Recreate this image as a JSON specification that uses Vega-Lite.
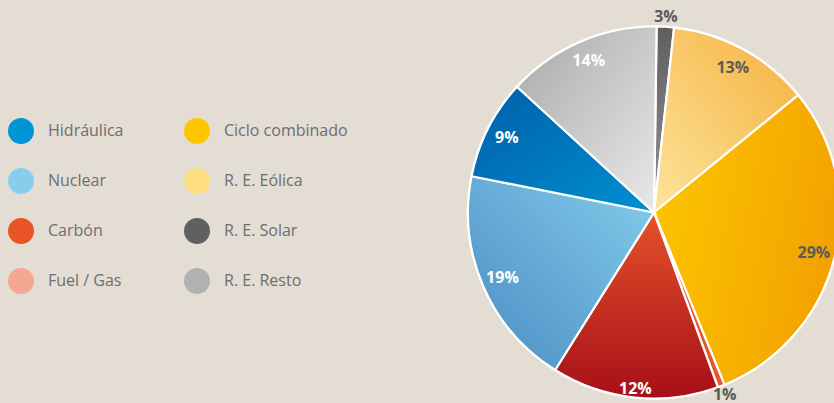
{
  "$schema": "https://vega.github.io/schema/vega-lite/v6.json",
  "width": 360,
  "height": 381,
  "padding": {"left": 474, "top": 22, "right": 0, "bottom": 0},
  "autosize": {"type": "none"},
  "background": "#e4ddd4",
  "config": {"view": {"stroke": null}},
  "data": {"values": [
    {"ord": 1, "fuente": "R. E. Solar", "share": 1.5, "etiqueta": "3%"},
    {"ord": 2, "fuente": "R. E. Eólica", "share": 12.4, "etiqueta": "13%"},
    {"ord": 3, "fuente": "Ciclo combinado", "share": 29.7, "etiqueta": "29%"},
    {"ord": 4, "fuente": "Fuel / Gas", "share": 0.6, "etiqueta": "1%"},
    {"ord": 5, "fuente": "Carbón", "share": 14.5, "etiqueta": "12%"},
    {"ord": 6, "fuente": "Nuclear", "share": 19.2, "etiqueta": "19%"},
    {"ord": 7, "fuente": "Hidráulica", "share": 8.7, "etiqueta": "9%"},
    {"ord": 8, "fuente": "R. E. Resto", "share": 13.4, "etiqueta": "14%"}
  ]},
  "encoding": {
    "theta": {"field": "share", "type": "quantitative", "stack": true, "scale": {"range": [0.014, 6.2972]}},
    "order": {"field": "ord", "type": "quantitative"}
  },
  "layer": [
    {
      "mark": {"type": "arc", "outerRadius": 186, "stroke": "white", "strokeWidth": 2.2},
      "encoding": {
        "color": {
          "field": "fuente",
          "type": "nominal",
          "scale": {
            "domain": ["Hidráulica", "Ciclo combinado", "Nuclear", "R. E. Eólica", "Carbón", "R. E. Solar", "Fuel / Gas", "R. E. Resto"],
            "range": ["#0096d6", "#ffc600", "#87cdee", "#fddf80", "#e85426", "#5f6062", "#f4a893", "#b1b1b1"]
          },
          "legend": {
            "orient": "none",
            "direction": "horizontal",
            "legendX": -466,
            "legendY": 96,
            "columns": 2,
            "title": null,
            "symbolType": "circle",
            "symbolSize": 676,
            "symbolStrokeWidth": 0,
            "symbolOpacity": 1,
            "labelFont": "Open Sans",
            "labelFontSize": 16,
            "labelColor": "#6d6e70",
            "labelOffset": 14,
            "rowPadding": 24,
            "columnPadding": 60,
            "padding": 0,
            "encode": {"symbols": {"update": {"stroke": {"value": "transparent"}}}}
          }
        }
      }
    },
    {
      "mark": {"type": "arc", "outerRadius": 186, "stroke": "white", "strokeWidth": 2.2},
      "encoding": {
        "fill": {
          "condition": [
            {"test": "datum.fuente === 'Hidráulica'", "value": {"gradient": "linear", "x1": 1, "y1": 1, "x2": 0, "y2": 0, "stops": [{"offset": 0, "color": "#0090d2"}, {"offset": 1, "color": "#005ea8"}]}},
            {"test": "datum.fuente === 'Ciclo combinado'", "value": {"gradient": "linear", "x1": 0, "y1": 0.3, "x2": 1, "y2": 0.6, "stops": [{"offset": 0, "color": "#fcc500"}, {"offset": 1, "color": "#f2a000"}]}},
            {"test": "datum.fuente === 'Nuclear'", "value": {"gradient": "linear", "x1": 1, "y1": 0, "x2": 0, "y2": 1, "stops": [{"offset": 0, "color": "#84cdeb"}, {"offset": 1, "color": "#4a8bc3"}]}},
            {"test": "datum.fuente === 'R. E. Eólica'", "value": {"gradient": "linear", "x1": 0, "y1": 1, "x2": 1, "y2": 0, "stops": [{"offset": 0, "color": "#fde49c"}, {"offset": 1, "color": "#f5b03c"}]}},
            {"test": "datum.fuente === 'Carbón'", "value": {"gradient": "linear", "x1": 0.5, "y1": 0, "x2": 0.5, "y2": 1, "stops": [{"offset": 0, "color": "#e3522a"}, {"offset": 1, "color": "#a70f18"}]}},
            {"test": "datum.fuente === 'R. E. Solar'", "value": {"gradient": "linear", "x1": 0.5, "y1": 0, "x2": 0.5, "y2": 1, "stops": [{"offset": 0, "color": "#5e5f61"}, {"offset": 1, "color": "#929292"}]}},
            {"test": "datum.fuente === 'Fuel / Gas'", "value": "#e6592c"},
            {"test": "datum.fuente === 'R. E. Resto'", "value": {"gradient": "linear", "x1": 1, "y1": 1, "x2": 0, "y2": 0, "stops": [{"offset": 0, "color": "#e9e9e9"}, {"offset": 1, "color": "#a9a9a9"}]}}
          ],
          "value": "#b1b1b1"
        }
      }
    },
    {
      "mark": {"type": "text", "radius": 165, "fontSize": 16, "fontWeight": "bold", "font": "Open Sans"},
      "encoding": {
        "text": {"field": "etiqueta", "type": "nominal", "condition": {"test": "datum.fuente === 'R. E. Solar' || datum.fuente === 'Fuel / Gas' || datum.fuente === 'Carbón'", "value": ""}},
        "color": {"condition": {"test": "datum.fuente === 'R. E. Eólica' || datum.fuente === 'Ciclo combinado'", "value": "#5a5b5d"}, "value": "white"}
      }
    },
    {
      "mark": {"type": "text", "radius": 177, "fontSize": 16, "fontWeight": "bold", "font": "Open Sans", "color": "white"},
      "encoding": {
        "text": {"field": "etiqueta", "type": "nominal", "condition": {"test": "datum.fuente !== 'Carbón'", "value": ""}}
      }
    },
    {
      "mark": {"type": "text", "radius": 196, "fontSize": 16, "fontWeight": "bold", "font": "Open Sans", "color": "#5a5b5d"},
      "encoding": {
        "text": {"field": "etiqueta", "type": "nominal", "condition": {"test": "datum.fuente !== 'R. E. Solar' && datum.fuente !== 'Fuel / Gas'", "value": ""}}
      }
    }
  ]
}
